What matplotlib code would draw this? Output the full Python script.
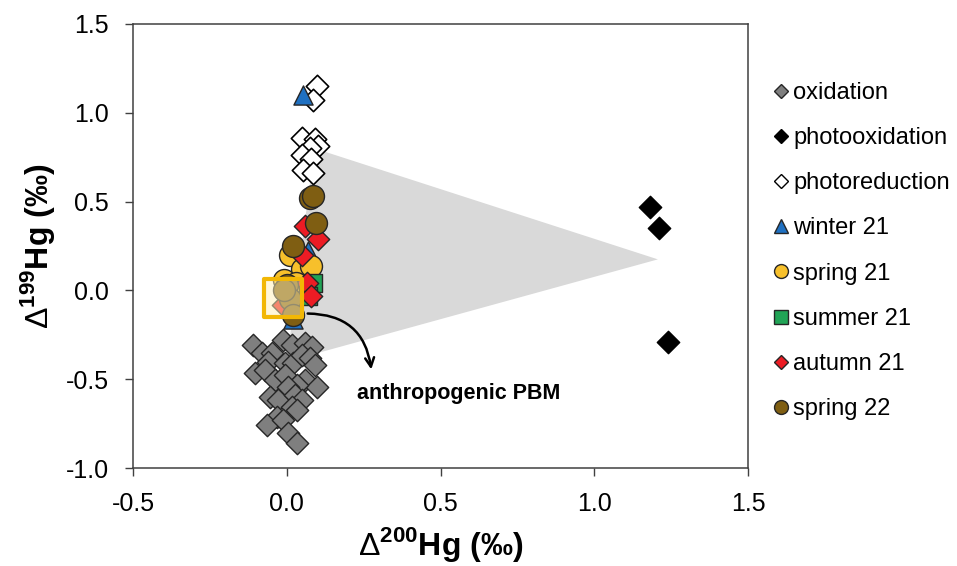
import matplotlib

matplotlib.use("Agg")
import matplotlib.pyplot as plt
from matplotlib.lines import Line2D
from matplotlib.patches import Polygon

plt.rcParams["font.family"] = ["Liberation Sans", "DejaVu Sans"]
plt.rcParams["mathtext.fontset"] = "custom"
plt.rcParams["mathtext.rm"] = "Liberation Sans"
plt.rcParams["mathtext.bf"] = "Liberation Sans:bold"

# --- data ---
oxidation_x = [-0.111, -0.081, -0.013, 0.016, 0.059, 0.081, -0.049, -0.062, -0.104, -0.072,
               -0.007, 0.020, 0.049, 0.075, 0.091, -0.039, -0.007, 0.059, 0.098, 0.033,
               0.003, -0.055, -0.029, 0.026, 0.049, 0.016, 0.033, -0.033, -0.065, -0.013,
               0.003, 0.033]
oxidation_y = [-0.309, -0.354, -0.281, -0.309, -0.298, -0.321, -0.354, -0.405, -0.467, -0.450,
               -0.411, -0.411, -0.366, -0.382, -0.422, -0.506, -0.478, -0.506, -0.546, -0.534,
               -0.546, -0.602, -0.619, -0.591, -0.619, -0.658, -0.675, -0.714, -0.759, -0.731,
               -0.804, -0.861]

photoox_x = [1.18, 1.21, 1.24]
photoox_y = [0.467, 0.354, -0.29]

photored_x = [0.097, 0.085, 0.049, 0.091, 0.100, 0.075, 0.049, 0.078, 0.052, 0.085]
photored_y = [1.15, 1.07, 0.86, 0.85, 0.815, 0.80, 0.76, 0.74, 0.68, 0.66]

winter21_x = [0.052, 0.068, 0.060, 0.020]
winter21_y = [1.10, 0.22, 0.02, -0.16]

spring21_x = [0.010, 0.050, 0.080, -0.010, 0.030, 0.020]
spring21_y = [0.20, 0.12, 0.14, 0.06, 0.04, -0.02]

summer21_x = [0.085, 0.070]
summer21_y = [0.04, -0.03]

autumn21_x = [0.058, 0.100, 0.049, 0.065, 0.078, -0.013]
autumn21_y = [0.365, 0.29, 0.20, 0.04, -0.03, -0.08]

spring22_x = [0.075, 0.085, 0.095, 0.020, 0.000, 0.010, 0.020, -0.010]
spring22_y = [0.52, 0.53, 0.38, 0.25, 0.03, -0.05, -0.14, 0.00]

# grey field and anthropogenic PBM box
field_x = [0.09, 1.207, 0.0]
field_y = [0.80, 0.175, -0.40]
pbm_x = [-0.013]
pbm_y = [-0.042]

fig = plt.figure(figsize=(9.57, 5.66), dpi=100)
ax = fig.add_axes([0.139, 0.173, 0.6426, 0.7846])

ax.add_patch(Polygon(list(zip(field_x, field_y)), closed=True,
                     facecolor="#d9d9d9", edgecolor="none", zorder=1))

edge = "#262626"
ax.scatter(oxidation_x, oxidation_y, marker="D", s=130, c="#7f7f7f",
           edgecolors=edge, linewidths=1.0, zorder=3)
ax.scatter(photoox_x, photoox_y, marker="D", s=130, c="black",
           edgecolors="black", linewidths=1.0, zorder=3)
ax.scatter(photored_x, photored_y, marker="D", s=130, c="white",
           edgecolors="black", linewidths=1.2, zorder=3)
ax.scatter(winter21_x, winter21_y, marker="^", s=190, c="#1f70c1",
           edgecolors=edge, linewidths=1.0, zorder=3)
ax.scatter(spring21_x, spring21_y, marker="o", s=250, c="#f7c02b",
           edgecolors=edge, linewidths=1.0, zorder=3)
ax.scatter(summer21_x, summer21_y, marker="s", s=170, c="#21a456",
           edgecolors=edge, linewidths=1.0, zorder=3)
ax.scatter(autumn21_x, autumn21_y, marker="D", s=130, c="#ec1c24",
           edgecolors=edge, linewidths=1.0, zorder=3)
ax.scatter(spring22_x, spring22_y, marker="o", s=250, c="#7f5e12",
           edgecolors=edge, linewidths=1.0, zorder=3)

ax.scatter(pbm_x, pbm_y, marker="s", s=760, facecolors=(1.0, 0.94, 0.72, 0.5),
           edgecolors="#f2b705", linewidths=3, zorder=4)

ax.annotate("", xy=(0.276, -0.46), xytext=(0.059, -0.13),
            arrowprops=dict(arrowstyle="->", color="black", lw=1.8,
                            connectionstyle="arc3,rad=-0.45", mutation_scale=16),
            zorder=5)
ax.text(0.228, -0.58, "anthropogenic PBM", fontsize=15.5, fontweight="bold",
        va="center", ha="left", zorder=5)

ax.set_xlim(-0.5, 1.5)
ax.set_ylim(-1.0, 1.5)
ax.set_xticks([-0.5, 0.0, 0.5, 1.0, 1.5])
ax.set_yticks([-1.0, -0.5, 0.0, 0.5, 1.0, 1.5])
ax.set_xticklabels(["-0.5", "0.0", "0.5", "1.0", "1.5"])
ax.set_yticklabels(["-1.0", "-0.5", "0.0", "0.5", "1.0", "1.5"])
ax.tick_params(direction="out", length=5.5, width=1.0, colors="#404040",
               labelcolor="black", labelsize=18, pad=12)
for sp in ax.spines.values():
    sp.set_color("#404040")
    sp.set_linewidth(1.1)

ax.set_xlabel(r"$\Delta^{\mathbf{200}}$Hg (‰)", fontsize=23, fontweight="bold", labelpad=6)
ax.set_ylabel(r"$\Delta^{\mathbf{199}}$Hg (‰)", fontsize=23, fontweight="bold", labelpad=6)

handles = [
    Line2D([], [], ls="", marker="D", ms=7.5, mfc="#7f7f7f", mec=edge, mew=1.0),
    Line2D([], [], ls="", marker="D", ms=7.5, mfc="black", mec="black", mew=1.0),
    Line2D([], [], ls="", marker="D", ms=7.5, mfc="white", mec="black", mew=1.0),
    Line2D([], [], ls="", marker="^", ms=10, mfc="#1f70c1", mec=edge, mew=1.0),
    Line2D([], [], ls="", marker="o", ms=10, mfc="#f7c02b", mec=edge, mew=1.0),
    Line2D([], [], ls="", marker="s", ms=10, mfc="#21a456", mec=edge, mew=1.0),
    Line2D([], [], ls="", marker="D", ms=7.5, mfc="#ec1c24", mec=edge, mew=1.0),
    Line2D([], [], ls="", marker="o", ms=10, mfc="#7f5e12", mec=edge, mew=1.0),
]
labels = ["oxidation", "photooxidation", "photoreduction", "winter 21",
          "spring 21", "summer 21", "autumn 21", "spring 22"]
fig.legend(handles, labels, loc="upper left", bbox_to_anchor=(0.809, 0.855),
           frameon=False, fontsize=17, handlelength=0.6, handletextpad=0.2,
           labelspacing=0.98, borderaxespad=0, borderpad=0)

fig.savefig("out.png", dpi=100)
